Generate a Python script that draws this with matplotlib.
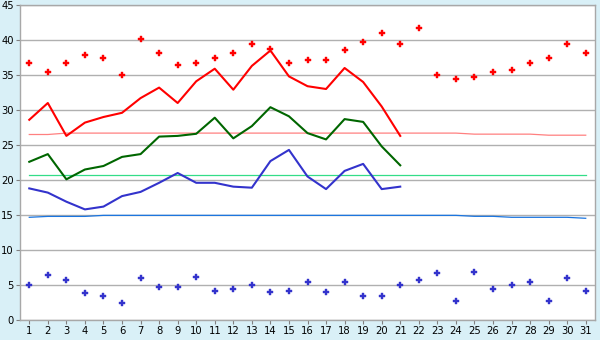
import matplotlib
matplotlib.use("Agg")
import matplotlib.pyplot as plt

# days of the month
days = list(range(1, 32))

# observed daily series (days 1-21)
t_max = [28.6, 31.0, 26.3, 28.2, 29.0, 29.6, 31.7, 33.2, 31.0, 34.1, 35.9,
         32.9, 36.3, 38.5, 34.8, 33.4, 33.0, 36.0, 34.0, 30.5, 26.3]
t_mean = [22.6, 23.7, 20.1, 21.5, 22.0, 23.3, 23.7, 26.2, 26.3, 26.6, 28.9,
          25.95, 27.7, 30.4, 29.1, 26.7, 25.8, 28.7, 28.3, 24.8, 22.1]
t_min = [18.8, 18.2, 16.9, 15.8, 16.2, 17.7, 18.3, 19.6, 21.0, 19.6, 19.6,
         19.05, 18.9, 22.7, 24.3, 20.5, 18.7, 21.3, 22.3, 18.7, 19.05]

# record values (all days)
rec_max = [36.7, 35.5, 36.7, 37.8, 37.4, 35.0, 40.1, 38.2, 36.5, 36.7, 37.5,
           38.1, 39.5, 38.7, 36.7, 37.1, 37.1, 38.6, 39.7, 41.0, 39.4, 41.7,
           35.0, 34.4, 34.7, 35.4, 35.7, 36.7, 37.4, 39.4, 38.2]
rec_min = [5.0, 6.4, 5.7, 3.8, 3.4, 2.4, 6.0, 4.7, 4.7, 6.1, 4.1,
           4.5, 5.0, 3.95, 4.1, 5.4, 3.95, 5.4, 3.4, 3.4, 5.0, 5.7,
           6.7, 2.7, 6.9, 4.4, 5.0, 5.4, 2.7, 6.0, 4.1]

# normals (all days)
norm_max = [26.5, 26.5] + [26.7] * 22 + [26.55] * 4 + [26.4] * 3
norm_mean = [20.7] * 31
norm_min = [14.67] + [14.8] * 3 + [14.95] * 20 + [14.81] * 2 + [14.67] * 4 + [14.53]

bg = "#d9f0f7"
fig = plt.figure(figsize=(6, 3.4), dpi=100, facecolor=bg)
ax = fig.add_axes([20 / 600, 20 / 340, 575 / 600, 315 / 340])
ax.set_facecolor("white")

obs_days = days[:len(t_max)]

ax.plot(days, norm_max, color="#ff8080", lw=0.9, zorder=2)
ax.plot(days, norm_mean, color="#33dd88", lw=0.9, zorder=2)
ax.plot(days, norm_min, color="#1a75e0", lw=0.9, zorder=2)

ax.plot(obs_days, t_max, color="#ff0000", lw=1.5, zorder=3)
ax.plot(obs_days, t_mean, color="#006600", lw=1.5, zorder=3)
ax.plot(obs_days, t_min, color="#3333cc", lw=1.5, zorder=3)

ax.plot(days, rec_max, ls="none", marker="P", ms=4, color="#ff0000",
        mec="#ff0000", mew=0.3, zorder=4)
ax.plot(days, rec_min, ls="none", marker="P", ms=4, color="#3333cc",
        mec="#3333cc", mew=0.3, zorder=4)

ax.set_xlim(0.5, 31.5)
ax.set_ylim(0, 45)
ax.set_xticks(days)
ax.set_yticks(range(0, 46, 5))
ax.yaxis.grid(True, color="#b0b0b0", lw=1)
ax.set_axisbelow(True)

for s in ax.spines.values():
    s.set_color("#a8a8a8")
    s.set_linewidth(1)

ax.tick_params(axis="both", direction="out", length=3, width=0.8,
               color="#808080", labelsize=7.2, labelcolor="black", pad=1.5)

fig.savefig("out.png", dpi=100, facecolor=bg)
